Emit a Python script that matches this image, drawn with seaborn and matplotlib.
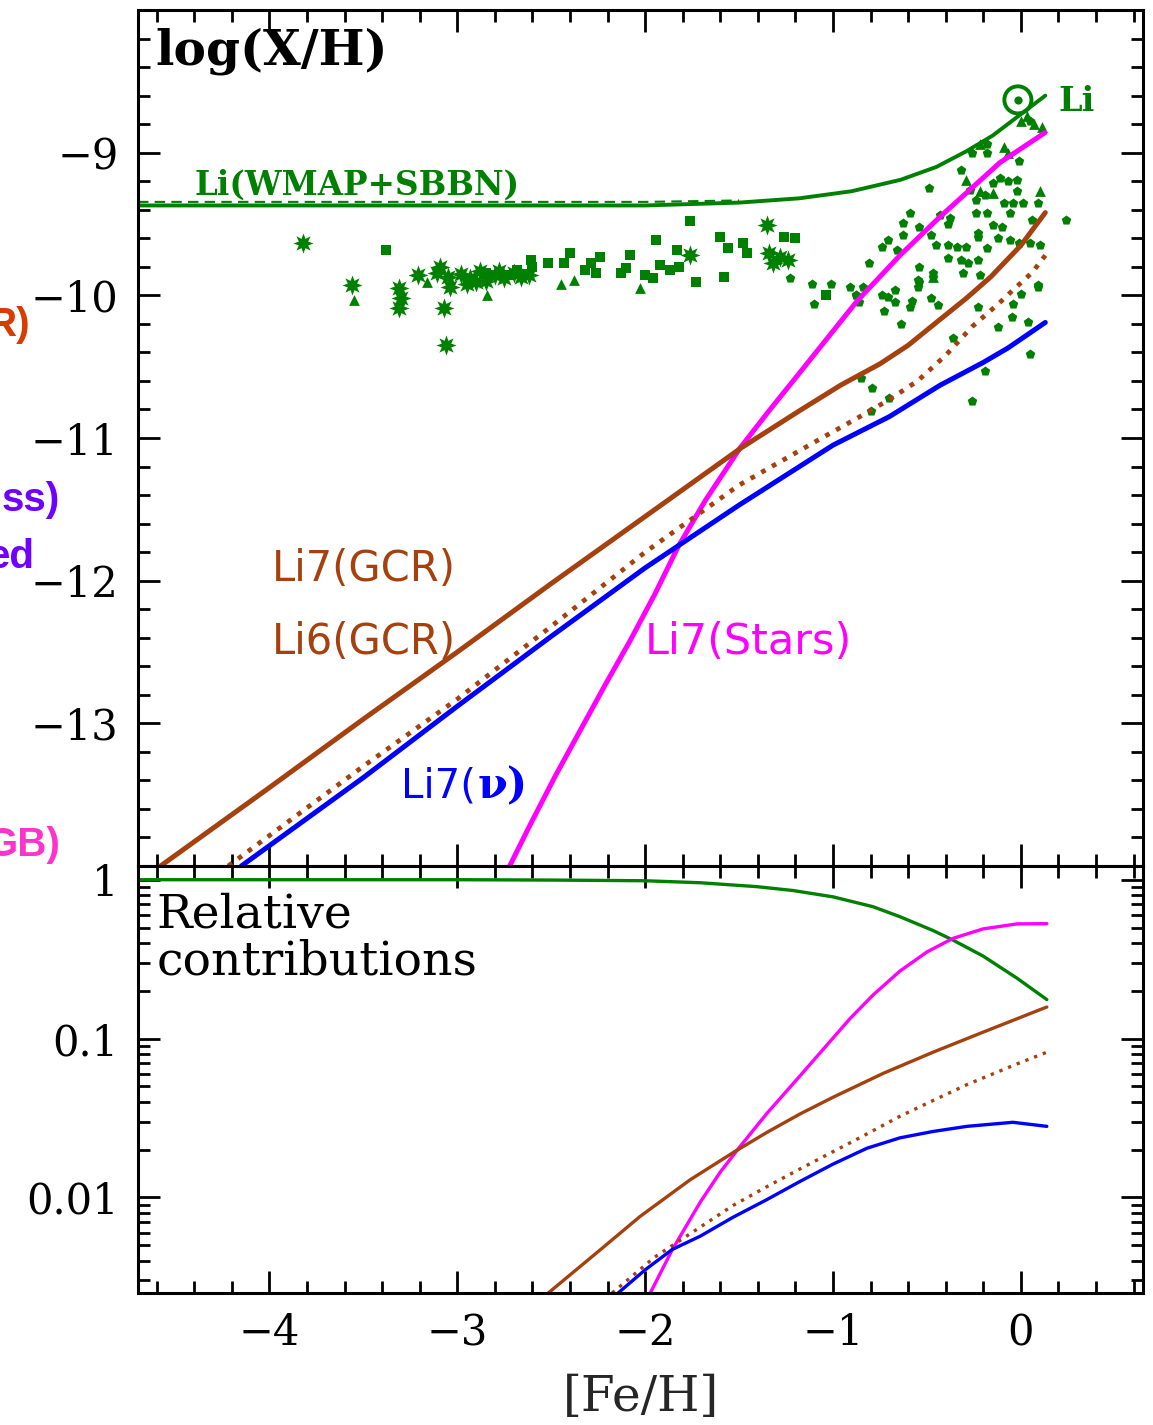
import numpy as np
import pandas as pd
import matplotlib
matplotlib.use("Agg")
import matplotlib.pyplot as plt
from matplotlib.ticker import MultipleLocator, LogLocator, NullFormatter
import seaborn as sns

# ---------------- data ----------------
# top panel: log(X/H) vs [Fe/H]
sbbn_x = [-4.7, -4.0, -3.0, -2.5, -2.0, -1.5, -1.18, -0.9, -0.64, -0.45, -0.29, -0.15, -0.04, 0.05, 0.13]
sbbn_y = [-9.37, -9.37, -9.37, -9.37, -9.37, -9.35, -9.32, -9.27, -9.19, -9.10, -8.99, -8.88, -8.77, -8.68, -8.60]
sbbn_up_x = [-4.7, -3.0, -2.0, -1.5]
sbbn_up_y = [-9.345, -9.345, -9.345, -9.335]

stars_x = [-2.729, -2.612, -2.479, -2.346, -2.213, -2.080, -1.947, -1.824, -1.681, -1.495,
           -1.335, -1.176, -0.872, -0.644, -0.431, -0.112, 0.128]
stars_y = [-14.02, -13.71, -13.37, -13.05, -12.73, -12.42, -12.09, -11.76, -11.44, -11.07,
           -10.80, -10.54, -10.04, -9.72, -9.45, -9.07, -8.86]

gcr7_x = [-4.58, -4.0, -3.5, -3.0, -2.5, -2.0, -1.49, -1.18, -0.96, -0.75, -0.60, -0.45, -0.29, -0.16, 0.0, 0.13]
gcr7_y = [-14.0, -13.45, -12.97, -12.50, -12.02, -11.55, -11.07, -10.81, -10.63, -10.48, -10.35, -10.19, -10.02, -9.87, -9.65, -9.42]

gcr6_x = [-4.22, -3.5, -3.0, -2.5, -2.0, -1.5, -1.06, -0.87, -0.70, -0.55, -0.40, -0.26, -0.12, -0.04, 0.06, 0.13]
gcr6_y = [-14.0, -13.3, -12.83, -12.32, -11.8, -11.33, -11.0, -10.86, -10.73, -10.6, -10.42, -10.22, -10.06, -9.96, -9.84, -9.72]

nu_x = [-4.15, -3.5, -3.0, -2.5, -2.0, -1.5, -1.0, -0.85, -0.70, -0.43, -0.20, -0.07, 0.13]
nu_y = [-14.0, -13.38, -12.88, -12.39, -11.91, -11.47, -11.05, -10.95, -10.85, -10.63, -10.47, -10.37, -10.19]

# observations
ast_x = [-3.82, -3.56, -3.31, -3.30, -3.31, -3.21, -3.09, -3.11, -3.05, -3.04, -3.07, -3.06,
         -2.98, -2.93, -2.88, -2.85, -2.80, -2.75, -2.70, -2.66, -2.62, -2.95, -2.90, -2.78,
         -1.76, -1.35, -1.32, -1.28, -1.24, -1.34]
ast_y = [-9.63, -9.93, -9.95, -10.02, -10.09, -9.86, -9.80, -9.84, -9.87, -9.94, -10.09, -10.35,
         -9.85, -9.88, -9.83, -9.90, -9.86, -9.88, -9.84, -9.87, -9.86, -9.92, -9.91, -9.83,
         -9.72, -9.51, -9.77, -9.73, -9.75, -9.70]

sq_x = [-3.38, -2.61, -2.52, -2.40, -2.43, -2.29, -2.24, -2.32, -2.26, -2.08, -2.10, -2.13,
        -1.94, -2.00, -1.87, -1.82, -1.96, -1.83, -1.76, -1.73, -1.60, -1.56, -1.58, -1.48,
        -1.46, -1.26, -1.20, -1.04, -2.85, -2.72, -2.68, -2.64, -2.60, -1.92]
sq_y = [-9.68, -9.75, -9.77, -9.70, -9.77, -9.77, -9.73, -9.82, -9.84, -9.72, -9.81, -9.84,
        -9.61, -9.86, -9.82, -9.80, -9.88, -9.68, -9.48, -9.91, -9.59, -9.67, -9.87, -9.63,
        -9.70, -9.59, -9.60, -10.00, -9.84, -9.86, -9.82, -9.85, -9.80, -9.79]

tri_x = [-3.55, -3.16, -2.84, -2.45, -2.38, -2.03, -0.29, -0.22, -0.09, -0.07, 0.00, 0.11,
         -0.22, -0.15, 0.10, -0.47, 0.03, 0.07]
tri_y = [-10.03, -9.91, -10.00, -9.92, -9.89, -9.95, -9.19, -8.94, -8.96, -9.00, -8.78, -8.82,
         -9.27, -9.28, -9.27, -9.87, -8.74, -8.80]

pent_x = [-1.23, -1.11, -1.10, -1.01, -0.91, -0.88,
          -0.49, -0.32, -0.26, -0.18, -0.18, -0.01, 0.05, -0.27, -0.15, -0.11, -0.07, -0.02, -0.02,
          -0.24, -0.19, -0.09, -0.04, 0.01, 0.09, 0.24, 0.06, -0.06, -0.18, -0.24, -0.59, -0.63,
          -0.54, -0.43, -0.38, -0.39, -0.63, -0.71, -0.74, -0.66, -0.48, -0.45, -0.39, -0.34,
          -0.29, -0.23, -0.23, -0.18, -0.15, -0.10, -0.12, -0.06, -0.01, 0.05, 0.10, -0.81,
          -0.54, -0.47, -0.39, -0.32, -0.28, -0.23, -0.31, -0.22, -0.54, -0.84, -0.88, -0.86,
          -0.74, -0.71, -0.67, -0.67, -0.73, -0.58, -0.59, -0.55, -0.55, -0.48, -0.44, -0.47,
          -0.23, -0.64, -0.36, -0.12, -0.05, -0.04, 0.00, 0.09, 0.04, 0.05, -0.19, -0.26,
          -0.79, -0.85, -0.70, -0.80, 0.09]
pent_y = [-9.88, -9.92, -10.06, -9.92, -9.94, -10.00,
          -9.25, -9.12, -9.00, -8.94, -9.00, -9.06, -8.78, -9.26, -9.21, -9.18, -9.20, -9.19, -9.27,
          -9.33, -9.30, -9.35, -9.35, -9.35, -9.35, -9.47, -9.47, -9.42, -9.42, -9.42, -9.42, -9.49,
          -9.52, -9.44, -9.46, -9.50, -9.58, -9.61, -9.66, -9.68, -9.58, -9.65, -9.65, -9.66,
          -9.66, -9.56, -9.59, -9.67, -9.51, -9.52, -9.60, -9.61, -9.63, -9.63, -9.65, -9.77,
          -9.80, -9.84, -9.74, -9.75, -9.77, -9.75, -9.84, -9.86, -9.91, -9.94, -10.00, -10.05,
          -10.00, -10.01, -9.96, -10.05, -10.11, -10.04, -10.08, -9.89, -9.94, -10.02, -10.07, -9.87,
          -10.08, -10.20, -10.30, -10.22, -10.15, -10.06, -9.99, -9.94, -10.19, -10.41, -10.53, -10.74,
          -10.65, -10.58, -10.72, -10.81, -9.93]

sun_x = [-0.016]
sun_y = [-8.63]

# bottom panel: relative contributions
rel_sbbn_x = [-4.7, -3.0, -2.5, -2.0, -1.707, -1.404, -1.213, -1.0, -0.787, -0.644, -0.468, -0.362, -0.202, -0.021, 0.138]
rel_sbbn_y = [1.0, 1.0, 0.995, 0.985, 0.957, 0.904, 0.855, 0.78, 0.676, 0.585, 0.479, 0.417, 0.331, 0.240, 0.176]
rel_stars_x = [-1.973, -1.856, -1.707, -1.60, -1.495, -1.351, -1.176, -1.032, -0.910, -0.787, -0.644, -0.5, -0.362, -0.202, -0.021, 0.138]
rel_stars_y = [0.0025, 0.00468, 0.00933, 0.01445, 0.0209, 0.0339, 0.0582, 0.0912, 0.1334, 0.188, 0.266, 0.351, 0.427, 0.49, 0.527, 0.529]
rel_gcr7_x = [-2.516, -2.239, -2.027, -1.761, -1.521, -1.351, -1.176, -1.0, -0.734, -0.468, -0.202, 0.138]
rel_gcr7_y = [0.0025, 0.00468, 0.00759, 0.0129, 0.0195, 0.0257, 0.0335, 0.0427, 0.0603, 0.082, 0.1096, 0.158]
rel_gcr6_x = [-2.176, -1.95, -1.707, -1.532, -1.351, -1.176, -1.053, -0.85, -0.644, -0.468, -0.287, -0.021, 0.138]
rel_gcr6_y = [0.0025, 0.0042, 0.0065, 0.0089, 0.0117, 0.0151, 0.0180, 0.0240, 0.0324, 0.0407, 0.0513, 0.0692, 0.082]
rel_nu_x = [-2.144, -2.0, -1.856, -1.707, -1.532, -1.351, -1.176, -1.0, -0.819, -0.644, -0.468, -0.287, -0.043, 0.138]
rel_nu_y = [0.0025, 0.0035, 0.0047, 0.0057, 0.0075, 0.0097, 0.0126, 0.0162, 0.0204, 0.0237, 0.0260, 0.028, 0.0297, 0.028]

top_yticks = [-13, -12, -11, -10, -9]
bot_yticks = [0.01, 0.1, 1]
bot_yticklabels = ["0.01", "0.1", "1"]
xticks = [-4, -3, -2, -1, 0]

# ---------------- style ----------------
sns.set_style("ticks")
plt.rcParams["font.family"] = ["DejaVu Serif"]
plt.rcParams["axes.unicode_minus"] = True

GREEN = "#008000"
MAGENTA = "#FF00FF"
BROWN = "#A4410E"
BLUE = "#0000FF"

fig = plt.figure(figsize=(11.53, 14.25), dpi=100)
ax1 = fig.add_axes([0.11969, 0.39228, 0.87164, 0.60070])
ax2 = fig.add_axes([0.11969, 0.09263, 0.87164, 0.29965])


def curve(ax, xs, ys, color, lw, ls="-"):
    df = pd.DataFrame({"x": xs, "y": ys})
    sns.lineplot(data=df, x="x", y="y", ax=ax, color=color, lw=lw, linestyle=ls,
                 sort=False, estimator=None, solid_capstyle="round", solid_joinstyle="round")

# top panel curves
curve(ax1, sbbn_x, sbbn_y, GREEN, 2.8)
curve(ax1, sbbn_up_x, sbbn_up_y, GREEN, 1.5, (0, (5, 3)))
curve(ax1, stars_x, stars_y, MAGENTA, 3.6)
curve(ax1, gcr7_x, gcr7_y, BROWN, 3.6)
curve(ax1, gcr6_x, gcr6_y, BROWN, 3.4, (0, (1, 1.6)))
curve(ax1, nu_x, nu_y, BLUE, 3.6)

# observations
sns.scatterplot(x=ast_x, y=ast_y, ax=ax1, marker=(8, 1, 0), s=210, color=GREEN, linewidth=0)
sns.scatterplot(x=sq_x, y=sq_y, ax=ax1, marker="s", s=62, color=GREEN, linewidth=0)
sns.scatterplot(x=tri_x, y=tri_y, ax=ax1, marker="^", s=60, color=GREEN, linewidth=0)
sns.scatterplot(x=pent_x, y=pent_y, ax=ax1, marker="p", s=52, color=GREEN, linewidth=0)
sns.scatterplot(x=sun_x, y=sun_y, ax=ax1, marker="o", s=380, facecolor="none",
                edgecolor=GREEN, linewidth=2.8)
sns.scatterplot(x=sun_x, y=sun_y, ax=ax1, marker="o", s=35, color=GREEN, linewidth=0)

# bottom panel curves
curve(ax2, rel_sbbn_x, rel_sbbn_y, GREEN, 2.4)
curve(ax2, rel_stars_x, rel_stars_y, MAGENTA, 2.4)
curve(ax2, rel_gcr7_x, rel_gcr7_y, BROWN, 2.4)
curve(ax2, rel_gcr6_x, rel_gcr6_y, BROWN, 2.4, (0, (1, 1.8)))
curve(ax2, rel_nu_x, rel_nu_y, BLUE, 2.4)

# ---------------- axes ----------------
for ax in (ax1, ax2):
    ax.set_xlim(-4.70, 0.65)
    ax.set_xticks(xticks)
    ax.xaxis.set_minor_locator(MultipleLocator(0.2))
    ax.tick_params(which="both", direction="in", top=True, right=True, width=2, colors="black")
    ax.tick_params(which="major", length=16, labelsize=30, pad=14)
    ax.tick_params(which="minor", length=8.5)
    for sp in ax.spines.values():
        sp.set_linewidth(2.2)
        sp.set_color("black")
    ax.set_xlabel("")
    ax.set_ylabel("")

ax1.set_ylim(-14, -8)
ax1.set_yticks(top_yticks)
ax1.yaxis.set_minor_locator(MultipleLocator(0.2))
ax1.tick_params(axis="x", labelbottom=False)

ax2.set_yscale("log")
ax2.set_ylim(0.0025, 1.22)
ax2.set_yticks(bot_yticks)
ax2.set_yticklabels(bot_yticklabels)
ax2.yaxis.set_minor_locator(LogLocator(base=10, subs=np.arange(2, 10)))
ax2.yaxis.set_minor_formatter(NullFormatter())
ax2.set_xlabel("[Fe/H]", fontsize=35, labelpad=14)

# ---------------- text ----------------
ax1.text(-4.61, -8.29, "log(X/H)", fontsize=35, fontweight="bold", color="black",
         va="center", ha="left")
ax1.text(-4.40, -9.23, "Li(WMAP+SBBN)", fontsize=23.5, fontweight="bold", color=GREEN,
         va="center", ha="left")
ax1.text(0.20, -8.64, "Li", fontsize=24, fontweight="bold", color=GREEN, va="center", ha="left")

sans = ["DejaVu Sans"]
ax1.text(-3.99, -11.92, "Li7(GCR)", fontsize=30, color=BROWN, family=sans, va="center", ha="left")
ax1.text(-3.99, -12.43, "Li6(GCR)", fontsize=30, color=BROWN, family=sans, va="center", ha="left")
ax1.text(-2.0, -12.43, "Li7(Stars)", fontsize=31, color=MAGENTA, family=sans, va="center", ha="left")
t_nu = ax1.text(-3.30, -13.44, "Li7(", fontsize=29, color=BLUE, family=sans, va="center", ha="left")
ax1.annotate("ν)", xy=(1.0, 0.5), xycoords=t_nu, xytext=(1, 0), textcoords="offset points",
             fontsize=31, color=BLUE, family=["DejaVu Serif"], fontweight="bold",
             va="center", ha="left")

ax2.text(-4.60, 0.60, "Relative", fontsize=34, color="black", va="center", ha="left")
ax2.text(-4.60, 0.305, "contributions", fontsize=34, color="black", va="center", ha="left")

# clipped labels at the left edge of the figure
bold_sans = dict(family=["Liberation Sans", "DejaVu Sans"], fontweight="bold", fontsize=29,
                 va="center", ha="right")
fig.text(0.026, 0.772, "R)", color="#D83C00", **bold_sans)
fig.text(0.052, 0.649, "ss)", color="#7000FF", **bold_sans)
fig.text(0.030, 0.609, "ed", color="#7000FF", **bold_sans)
fig.text(0.052, 0.407, "GB)", color="#FF33CC", **bold_sans)

fig.savefig("out.png", dpi=100)
